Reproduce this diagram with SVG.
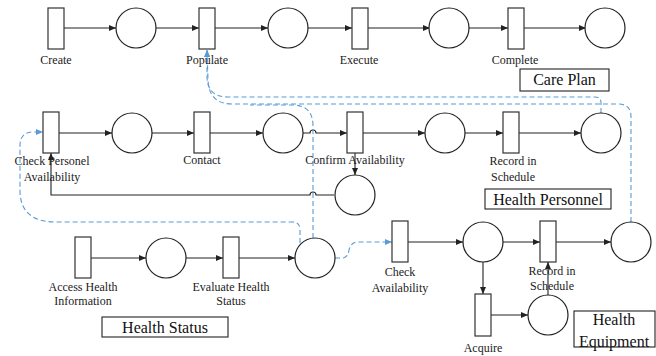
<svg xmlns="http://www.w3.org/2000/svg" width="656" height="356" viewBox="0 0 656 356">
<defs>
<style>
.t{fill:#fff;stroke:#333;stroke-width:1.2}
.p{fill:#fff;stroke:#222;stroke-width:1.2}
.a{fill:none;stroke:#222;stroke-width:1.1;marker-end:url(#ah)}
.d{fill:none;stroke:#5B9BD5;stroke-width:1.1;stroke-dasharray:5,3}
.da{fill:none;stroke:#5B9BD5;stroke-width:1.1;stroke-dasharray:5,3;marker-end:url(#bh)}
.l{font-family:"Liberation Serif",serif;font-size:12px;fill:#222;text-anchor:middle}
.b{font-family:"Liberation Serif",serif;font-size:16px;fill:#111;text-anchor:middle}
.bx{fill:#fff;stroke:#222;stroke-width:1.1}
</style>
<marker id="ah" markerWidth="7" markerHeight="6" refX="7" refY="3" orient="auto" markerUnits="userSpaceOnUse"><path d="M0,0 L7,3 L0,6 Z" fill="#222"/></marker>
<marker id="bh" markerWidth="7" markerHeight="6" refX="7" refY="3" orient="auto" markerUnits="userSpaceOnUse"><path d="M0,0 L7,3 L0,6 Z" fill="#5B9BD5"/></marker>
</defs>
<rect width="656" height="356" fill="#fff"/>
<g id="connectors">
<path class="a" d="M64,28 L116,28"/>
<path class="a" d="M156,28 L199,28"/>
<path class="a" d="M215,28 L268,28"/>
<path class="a" d="M307,28 L352,28"/>
<path class="a" d="M368,28 L430,28"/>
<path class="a" d="M469,28 L508,28"/>
<path class="a" d="M524,28 L586,28"/>
<path class="a" d="M59,133 L112,133"/>
<path class="a" d="M152,133 L194,133"/>
<path class="a" d="M210,133 L263,133"/>
<path class="a" d="M303,133 L310,133 A3,3 0 0 1 316,133 L347,133"/>
<path class="a" d="M363,133 L425,133"/>
<path class="a" d="M464,133 L503,133"/>
<path class="a" d="M519,133 L581,133"/>
<path class="a" d="M355,153 L355,175"/>
<path class="a" d="M334,195 L316,195 A3,3 0 0 0 310,195 L51,195 L51,153"/>
<path class="a" d="M91,258 L146,258"/>
<path class="a" d="M186,258 L223,258"/>
<path class="a" d="M239,258 L295,258"/>
<path class="a" d="M408,242 L463,242"/>
<path class="a" d="M503,242 L540,242"/>
<path class="a" d="M556,242 L611,242"/>
<path class="a" d="M483,262 L483,294"/>
<path class="a" d="M491,315 L528,315"/>
<path class="a" d="M548,295 L548,262"/>
<path class="da" d="M601,113 L601,103 Q601,97 595,97 L228,97 Q207,97 207,76 L207,50"/>
<path class="da" d="M631,222 L631,117 Q631,104 618,104 L232,104 Q209,104 208,80 L207,50"/>
<path class="d" d="M313,238 L313,126 Q313,105 292,105 L250,105"/>
<path class="da" d="M300,243 L300,230 Q300,222 292,222 L56,222 Q21,222 20,192 L20,146 Q20,132 33,132 L43,132"/>
<path class="da" d="M335,258 L342,258 Q348,258 349,250 Q351,242 358,242 L392,242"/>
</g>
<g id="care-plan">
<rect class="t" x="48" y="8" width="16" height="41"/>
<circle class="p" cx="136" cy="28" r="20"/>
<rect class="t" x="199" y="8" width="16" height="41"/>
<circle class="p" cx="288" cy="28" r="20"/>
<rect class="t" x="352" y="8" width="16" height="41"/>
<circle class="p" cx="449" cy="28" r="20"/>
<rect class="t" x="508" y="8" width="16" height="41"/>
<circle class="p" cx="605" cy="28" r="20"/>
<text class="l" x="56" y="64">Create</text>
<text class="l" x="207" y="64">Populate</text>
<text class="l" x="359" y="64">Execute</text>
<text class="l" x="515" y="64">Complete</text>
<rect class="bx" x="520" y="69" width="89" height="22"/>
<text class="b" x="564.5" y="85">Care Plan</text>
</g>
<g id="health-personnel">
<rect class="t" x="43" y="112" width="16" height="41"/>
<circle class="p" cx="132" cy="133" r="20"/>
<rect class="t" x="194" y="112" width="16" height="41"/>
<circle class="p" cx="283" cy="133" r="20"/>
<rect class="t" x="347" y="112" width="16" height="41"/>
<circle class="p" cx="445" cy="133" r="20"/>
<rect class="t" x="503" y="112" width="16" height="41"/>
<circle class="p" cx="601" cy="133" r="20"/>
<circle class="p" cx="355" cy="195" r="20"/>
<text class="l" x="52" y="165">Check Personel</text>
<text class="l" x="52" y="181">Availability</text>
<text class="l" x="202" y="164">Contact</text>
<text class="l" x="355" y="164">Confirm Availability</text>
<text class="l" x="513" y="165">Record in</text>
<text class="l" x="513" y="181">Schedule</text>
<rect class="bx" x="485" y="189" width="126" height="20"/>
<text class="b" x="548" y="205">Health Personnel</text>
</g>
<g id="health-status">
<rect class="t" x="75" y="237" width="16" height="41"/>
<circle class="p" cx="166" cy="258" r="20"/>
<rect class="t" x="223" y="237" width="16" height="41"/>
<circle class="p" cx="315" cy="258" r="20"/>
<text class="l" x="83" y="291">Access Health</text>
<text class="l" x="83" y="305">Information</text>
<text class="l" x="231" y="291">Evaluate Health</text>
<text class="l" x="231" y="305">Status</text>
<rect class="bx" x="102" y="317" width="126" height="20"/>
<text class="b" x="165" y="333">Health Status</text>
</g>
<g id="health-equipment">
<rect class="t" x="392" y="221" width="16" height="41"/>
<circle class="p" cx="483" cy="242" r="20"/>
<rect class="t" x="540" y="221" width="16" height="41"/>
<circle class="p" cx="631" cy="242" r="20"/>
<rect class="t" x="475" y="294" width="16" height="42"/>
<circle class="p" cx="548" cy="315" r="20"/>
<text class="l" x="400" y="276">Check</text>
<text class="l" x="400" y="292">Availability</text>
<text class="l" x="552" y="275">Record in</text>
<text class="l" x="552" y="290">Schedule</text>
<text class="l" x="483" y="352">Acquire</text>
<rect class="bx" x="574" y="311" width="81" height="36"/>
<text class="b" x="614" y="325">Health</text>
<text class="b" x="614" y="347">Equipment</text>
</g>
</svg>
